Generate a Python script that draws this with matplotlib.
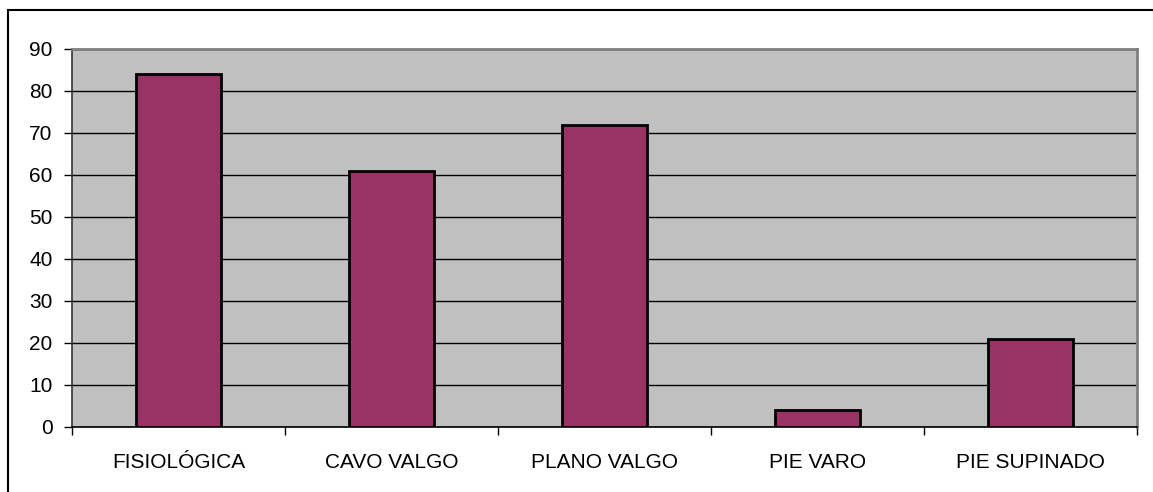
import matplotlib
matplotlib.use("Agg")
import matplotlib.pyplot as plt
from matplotlib.patches import Rectangle
import numpy as np

categories = ["FISIOLÓGICA", "CAVO VALGO", "PLANO VALGO", "PIE VARO", "PIE SUPINADO"]
values = [84, 61, 72, 4, 21]
yticks = [0, 10, 20, 30, 40, 50, 60, 70, 80, 90]

plt.rcParams["font.family"] = ["Liberation Sans", "DejaVu Sans"]

W, H = 1153, 492
fig = plt.figure(figsize=(W / 100, H / 100), dpi=100)
fig.patch.set_facecolor("white")

# outer chart frame
fig.add_artist(Rectangle((8 / W, -0.1), 1.2, 1 - 10 / H + 0.1,
                         transform=fig.transFigure, fill=False,
                         edgecolor="black", linewidth=1.5))

ax = fig.add_axes([72 / W, 1 - 427 / H, (1137 - 72) / W, (427 - 49) / H])
ax.set_facecolor("#C0C0C0")

x = np.arange(len(categories))
ax.bar(x, values, width=0.4, color="#993366", edgecolor="black",
       linewidth=2, zorder=3)

ax.set_xlim(-0.5, len(categories) - 0.5)
ax.set_ylim(0, 90)
ax.set_yticks(yticks)
ax.yaxis.grid(True, color="black", linewidth=1, zorder=1)
ax.set_axisbelow(True)

ax.set_xticks(x)
ax.set_xticklabels(categories)
ax.set_xticks(np.arange(-0.5, len(categories)), minor=True)
ax.tick_params(axis="x", which="major", length=0, pad=19, labelsize=15)
ax.tick_params(axis="x", which="minor", length=6, width=1, direction="out")
ax.tick_params(axis="y", length=6, width=1, direction="out", pad=8,
               labelsize=15)

for side in ("top", "right"):
    ax.spines[side].set_color("#808080")
    ax.spines[side].set_linewidth(2)
ax.spines["left"].set_color("#333333")
ax.spines["bottom"].set_color("black")
ax.spines["left"].set_linewidth(1.2)
ax.spines["bottom"].set_linewidth(1.2)

fig.savefig("out.png", dpi=100, facecolor="white")
